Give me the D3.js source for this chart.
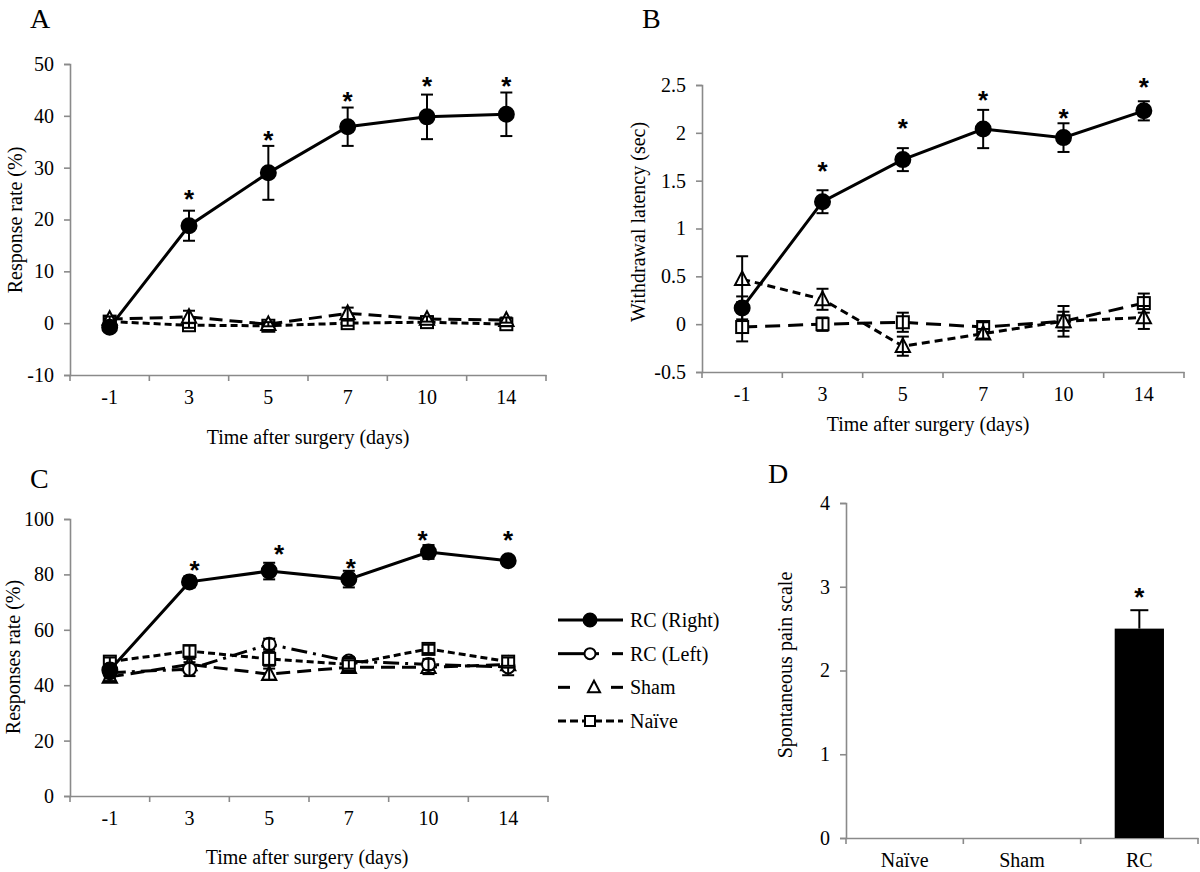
<!DOCTYPE html>
<html><head><meta charset="utf-8">
<script src="https://cdn.jsdelivr.net/npm/d3@7"></script>
<style>
html,body{margin:0;padding:0;background:#fff;}
svg text{font-family:"Liberation Serif","Times New Roman",serif;fill:#000;}
</style></head>
<body>
<svg id="chart" width="1200" height="872"></svg>
<script>
// ---------------- DATA ----------------
const days = ["-1", "3", "5", "7", "10", "14"];

// Panel A: Response rate (%)
const aRight = [-0.8, 18.8, 29.0, 37.9, 39.8, 40.3];
const aRightErr = [0.6, 2.9, 5.2, 3.7, 4.3, 4.2];
const aSham = [0.8, 1.2, -0.2, 1.9, 0.8, 0.6];
const aShamErr = [0.5, 1.2, 0.4, 1.1, 0.5, 0.5];
const aNaive = [0.3, -0.4, -0.5, 0.0, 0.2, -0.2];
const aNaiveErr = [0.6, 0.5, 0.4, 0.5, 0.4, 0.4];
const aStars = [false, true, true, true, true, true];
const aTicks = [-10, 0, 10, 20, 30, 40, 50];

// Panel B: Withdrawal latency (sec)
const bRight = [0.17, 1.28, 1.72, 2.04, 1.95, 2.23];
const bRightErr = [0.12, 0.12, 0.12, 0.2, 0.15, 0.1];
const bSham = [0.47, 0.26, -0.23, -0.1, 0.03, 0.07];
const bShamErr = [0.24, 0.11, 0.1, 0.05, 0.1, 0.12];
const bNaive = [-0.03, 0.0, 0.02, -0.03, 0.03, 0.22];
const bNaiveErr = [0.15, 0.07, 0.1, 0.05, 0.16, 0.1];
const bStars = [false, true, true, true, true, true];
const bTicks = [-0.5, 0, 0.5, 1, 1.5, 2, 2.5];
const bTickLabels = ["-0.5", "0", "0.5", "1", "1.5", "2", "2.5"];

// Panel C: Responses rate (%)
const cRight = [45.5, 77.3, 81.2, 78.3, 88.1, 84.9];
const cRightErr = [2, 2, 3, 3, 2.5, 1.5];
const cLeft = [44.5, 45.8, 54.8, 48.7, 47.5, 46.6];
const cLeftErr = [2, 2.5, 2, 1.5, 2, 3];
const cSham = [43, 47.5, 44, 46.5, 46.5, 47.5];
const cShamErr = [1.5, 2, 2, 1.5, 2.5, 1.5];
const cNaive = [48.5, 52.3, 49.5, 47.5, 53.1, 48.5];
const cNaiveErr = [1.5, 2, 2.5, 1.5, 1.5, 1.5];
const cStars = [false, true, true, true, true, true];
const cTicks = [0, 20, 40, 60, 80, 100];

// Legend
const legendLabels = ["RC (Right)", "RC (Left)", "Sham", "Naïve"];

// Panel D: Spontaneous pain scale
const dCats = ["Naïve", "Sham", "RC"];
const dVals = [0, 0, 2.5];
const dErr = [0, 0, 0.22];
const dStars = [false, false, true];
const dTicks = [0, 1, 2, 3, 4];

// ---------------- DRAWING ----------------
const svg = d3.select("#chart");
const AXIS = "#8a8a8a";
const TICKFONT = 20;
const TITLEFONT = 20;

function styleAxisText(a) {
  a.attr("font-family", null).attr("font-size", null);
  a.selectAll("text").style("font-size", TICKFONT + "px")
    .style("font-family", "'Liberation Serif', serif");
}

function yAxis(g, y, left, ticks, labels) {
  const ax = d3.axisLeft(y).tickValues(ticks).tickSize(6).tickPadding(10)
    .tickFormat((d, i) => labels ? labels[i] : String(d));
  const a = g.append("g").attr("transform", `translate(${left},0)`).call(ax);
  a.select(".domain").attr("stroke", AXIS).attr("stroke-width", 1.6);
  a.selectAll(".tick line").attr("stroke", AXIS).attr("stroke-width", 1.6);
  styleAxisText(a);
}

function xAxis(g, x, ybase, labelGap) {
  const ax = d3.axisBottom(x).tickSize(0).tickPadding(labelGap);
  const a = g.append("g").attr("transform", `translate(0,${ybase})`).call(ax);
  a.select(".domain").attr("stroke", AXIS).attr("stroke-width", 1.6);
  styleAxisText(a);
  // tick marks at the category boundaries
  const edges = x.domain().map(d => x(d)).concat([x.range()[1]]);
  g.append("g").selectAll("line").data(edges).join("line")
    .attr("x1", d => d).attr("x2", d => d)
    .attr("y1", ybase).attr("y2", ybase + 6)
    .attr("stroke", AXIS).attr("stroke-width", 1.6);
}

function marker(g, type, cx, cy, size) {
  if (type === "circleFilled" || type === "circleOpen") {
    g.append("circle").attr("cx", cx).attr("cy", cy).attr("r", size / 2)
      .attr("fill", type === "circleFilled" ? "#000" : "#fff")
      .attr("stroke", "#000").attr("stroke-width", 2);
  } else if (type === "square") {
    g.append("rect").attr("x", cx - size / 2).attr("y", cy - size / 2)
      .attr("width", size).attr("height", size)
      .attr("fill", "#fff").attr("stroke", "#000").attr("stroke-width", 2);
  } else if (type === "triangle") {
    const h = size;
    g.append("path")
      .attr("d", `M${cx},${cy - h * 0.6} L${cx + h * 0.55},${cy + h * 0.45} L${cx - h * 0.55},${cy + h * 0.45} Z`)
      .attr("fill", "#fff").attr("stroke", "#000").attr("stroke-width", 2);
  }
}

function series(g, x, y, vals, errs, opts) {
  const xc = d => x(d) + x.bandwidth() / 2;
  const line = d3.line().x((d, i) => xc(days[i])).y(d => y(d));
  g.append("path").datum(vals).attr("d", line)
    .attr("fill", "none").attr("stroke", "#000").attr("stroke-width", 3)
    .attr("stroke-dasharray", opts.dash || null);
  vals.forEach((v, i) => {
    marker(g, opts.marker, xc(days[i]), y(v), opts.size);
  });
  // error bars drawn on top of the markers
  vals.forEach((v, i) => {
    const cx = xc(days[i]);
    const e = errs[i];
    const top = y(v + e), bot = y(v - e);
    g.append("line").attr("x1", cx).attr("x2", cx).attr("y1", top).attr("y2", bot)
      .attr("stroke", "#000").attr("stroke-width", 2);
    [top, bot].forEach(yy => g.append("line").attr("x1", cx - 6).attr("x2", cx + 6)
      .attr("y1", yy).attr("y2", yy).attr("stroke", "#000").attr("stroke-width", 2));
  });
}

// asterisk centred `gap[i]` px above the top of the error bar
function stars(g, x, y, vals, errs, flags, gap, dx) {
  vals.forEach((v, i) => {
    if (!flags[i]) return;
    const cx = x(days[i]) + x.bandwidth() / 2 + (dx ? dx[i] : 0);
    g.append("text").attr("x", cx).attr("y", y(v + errs[i]) - gap[i] + 14)
      .attr("text-anchor", "middle")
      .style("font-family", "'Liberation Sans', sans-serif").style("font-size", "26px")
      .style("font-weight", "bold")
      .text("*");
  });
}

function label(text, x, y, size, rotate, anchor) {
  return svg.append("text").attr("text-anchor", anchor || "middle")
    .style("font-size", size + "px")
    .attr("transform", `translate(${x},${y})` + (rotate ? " rotate(-90)" : ""))
    .text(text);
}

// ----- Panel A -----
(function () {
  const g = svg.append("g");
  const x = d3.scaleBand().domain(days).range([70, 546]);
  const y = d3.scaleLinear().domain([-10, 50]).range([375, 64]);
  xAxis(g, x, y(-10), 15);
  yAxis(g, y, 70, aTicks);
  series(g, x, y, aNaive, aNaiveErr, { marker: "square", size: 12, dash: "7,4" });
  series(g, x, y, aSham, aShamErr, { marker: "triangle", size: 13, dash: "13,7" });
  series(g, x, y, aRight, aRightErr, { marker: "circleFilled", size: 15 });
  stars(g, x, y, aRight, aRightErr, aStars, [0, 17, 11, 12, 14, 12]);
  label("A", 30, 28, 28, false, "start");
  label("Response rate (%)", 22, 220, TITLEFONT, true);
  label("Time after surgery (days)", 308, 444, TITLEFONT, false);
})();

// ----- Panel B -----
(function () {
  const g = svg.append("g");
  const x = d3.scaleBand().domain(days).range([702, 1184]);
  const y = d3.scaleLinear().domain([-0.5, 2.5]).range([372, 85]);
  xAxis(g, x, y(-0.5), 15);
  yAxis(g, y, 702, bTicks, bTickLabels);
  series(g, x, y, bNaive, bNaiveErr, { marker: "square", size: 12, dash: "15,8" });
  series(g, x, y, bSham, bShamErr, { marker: "triangle", size: 13, dash: "8,5" });
  series(g, x, y, bRight, bRightErr, { marker: "circleFilled", size: 15 });
  stars(g, x, y, bRight, bRightErr, bStars, [0, 24, 25, 15, 10, 19]);
  label("B", 642, 28, 28, false, "start");
  label("Withdrawal latency (sec)", 645, 222, TITLEFONT, true);
  label("Time after surgery (days)", 928, 431, TITLEFONT, false);
})();

// ----- Panel C -----
(function () {
  const g = svg.append("g");
  const x = d3.scaleBand().domain(days).range([70, 548]);
  const y = d3.scaleLinear().domain([0, 100]).range([796, 519]);
  xAxis(g, x, y(0), 15);
  yAxis(g, y, 70, cTicks);
  series(g, x, y, cSham, cShamErr, { marker: "triangle", size: 13, dash: "14,7" });
  series(g, x, y, cLeft, cLeftErr, { marker: "circleOpen", size: 13, dash: "16,6,3,6" });
  series(g, x, y, cNaive, cNaiveErr, { marker: "square", size: 12, dash: "7,4" });
  series(g, x, y, cRight, cRightErr, { marker: "circleFilled", size: 15 });
  stars(g, x, y, cRight, cRightErr, cStars, [0, 11, 14, 8, 10, 22], [0, 5, 10, 2, -6, 0]);
  label("C", 30, 488, 28, false, "start");
  label("Responses rate (%)", 20, 657, TITLEFONT, true);
  label("Time after surgery (days)", 307, 864, TITLEFONT, false);

  // legend
  const lg = svg.append("g");
  const styles = [
    { marker: "circleFilled", size: 13 },
    { marker: "circleOpen", size: 11 },
    { marker: "triangle", size: 11 },
    { marker: "square", size: 10, dash: "8,4" }
  ];
  const rowY = d3.scalePoint().domain(legendLabels).range([620, 721]);
  const seg = (x1, x2, yy, dash) => lg.append("line").attr("x1", x1).attr("x2", x2)
    .attr("y1", yy).attr("y2", yy).attr("stroke", "#000").attr("stroke-width", 3)
    .attr("stroke-dasharray", dash || null);
  legendLabels.forEach((name, i) => {
    const yy = rowY(name);
    const st = styles[i];
    if (i === 0) { seg(558, 623, yy); }
    else if (i === 1) { seg(558, 584, yy); seg(596, 599, yy); seg(612, 623, yy); }
    else if (i === 2) { seg(558, 570, yy); seg(611, 623, yy); }
    else { seg(558, 623, yy, st.dash); }
    marker(lg, st.marker, i === 2 ? 594 : 590, yy, st.size);
    lg.append("text").attr("x", 630).attr("y", yy + 7).style("font-size", "20px").text(name);
  });
})();

// ----- Panel D -----
(function () {
  const g = svg.append("g");
  const x = d3.scaleBand().domain(dCats).range([846, 1198]).paddingInner(0.58).paddingOuter(0.29);
  const y = d3.scaleLinear().domain([0, 4]).range([838, 503]);
  const ax = d3.axisBottom(x).tickSize(0).tickPadding(15);
  const a = g.append("g").attr("transform", `translate(0,${y(0)})`).call(ax);
  a.select(".domain").attr("stroke", AXIS).attr("stroke-width", 1.6);
  styleAxisText(a);
  const step = x.step();
  const x0 = x.range()[0], x1 = x.range()[1];
  const edges = [x0, x0 + step, x0 + step * 2, x1];
  g.append("g").selectAll("line").data(edges).join("line")
    .attr("x1", d => d).attr("x2", d => d).attr("y1", y(0)).attr("y2", y(0) + 6)
    .attr("stroke", AXIS).attr("stroke-width", 1.6);
  yAxis(g, y, 846, dTicks);
  g.selectAll("rect.bar").data(dVals).join("rect").attr("class", "bar")
    .attr("x", (d, i) => x(dCats[i]) + (d === 0 ? x.bandwidth() * 0.3 : 0))
    .attr("width", d => d === 0 ? x.bandwidth() * 0.4 : x.bandwidth())
    .attr("y", d => y(d)).attr("height", d => y(0) - y(d))
    .attr("fill", "#000")
    .attr("stroke", d => d === 0 ? "#d0d0d0" : "none").attr("stroke-width", 1);
  dVals.forEach((v, i) => {
    if (!dErr[i]) return;
    const cx = x(dCats[i]) + x.bandwidth() / 2;
    const top = y(v + dErr[i]);
    g.append("line").attr("x1", cx).attr("x2", cx).attr("y1", y(v)).attr("y2", top)
      .attr("stroke", "#000").attr("stroke-width", 2);
    g.append("line").attr("x1", cx - 9).attr("x2", cx + 9).attr("y1", top).attr("y2", top)
      .attr("stroke", "#000").attr("stroke-width", 2);
    if (dStars[i]) g.append("text").attr("x", cx).attr("y", top - 18 + 14)
      .attr("text-anchor", "middle").style("font-family", "'Liberation Sans', sans-serif")
      .style("font-size", "26px").style("font-weight", "bold").text("*");
  });
  label("D", 768, 483, 28, false, "start");
  label("Spontaneous pain scale", 792, 665, TITLEFONT, true);
})();
</script>
</body></html>
